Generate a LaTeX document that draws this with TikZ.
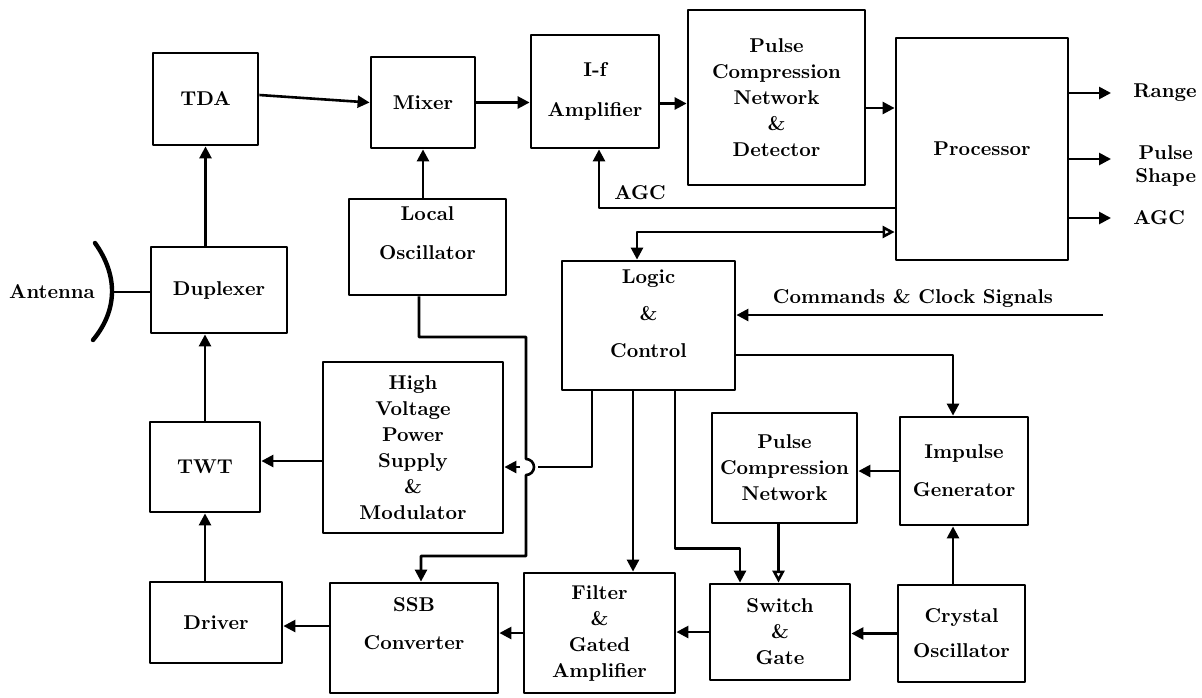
\documentclass[tikz,border=0pt]{standalone}
\usepackage{tikz}
\usetikzlibrary{arrows.meta}
\newcommand{\blockfont}{\bfseries\fontsize{10}{13}\selectfont}
\tikzstyle{block}=[draw, line width=1.4pt, align=center, inner sep=2pt, font=\blockfont]
\tikzstyle{txt}=[align=center, inner sep=0, font=\blockfont]
\tikzstyle{sig}=[line width=1.3pt, -{Triangle[length=6pt, width=6pt]}]
\tikzstyle{osig}=[line width=1.3pt, -{Triangle[open, length=6pt, width=6pt]}]
\tikzstyle{radar}=[x=0.5pt, y=-0.5pt, line join=round,
                   % Pixel grid of the original drawing, origin top left.
                   execute at begin picture={\useasboundingbox (0,0) rectangle (1202,697);}]
\begin{document}
\begin{tikzpicture}[radar]
    % receiver chain
    \node[block, minimum width=52.5pt, minimum height=46pt] (tda) at (205.5,99) {TDA};
    \node[block, minimum width=68pt, minimum height=43pt] (dup) at (219,290) {Duplexer};
    \node[block, minimum width=52pt, minimum height=45.5pt] (mix) at (423,102.5) {Mixer};
    \node[block, minimum width=78.5pt, minimum height=48pt] (lo) at (427.5,247) {};
    \node[txt] (lotext) at (427.5,233.5) {Local\\[6.5pt]Oscillator};
    \node[block, minimum width=64pt, minimum height=56.5pt] (ifa) at (595,91.5) {I-f\\[7pt]Amplifier};
    \node[block, minimum width=88.5pt, minimum height=87.5pt] (pcnd) at (776.5,97.5) {Pulse\\Compression\\Network\\\&\\Detector};
    \node[block, minimum width=86pt, minimum height=111pt] (proc) at (982,149) {Processor};
    \node[txt, anchor=west] (rng) at (1133,93) {Range};
    \node[txt, anchor=west, font=\bfseries\fontsize{10}{11.5}\selectfont] (shp) at (1135,166) {Pulse\\Shape};
    \node[txt, anchor=west] (agco) at (1133,218) {AGC};
    \node[txt] (agcl) at (640,193) {AGC};
    % transmitter chain
    \node[block, minimum width=86.5pt, minimum height=64.5pt] (logic) at (648.5,325.5) {};
    \node[txt] (logictext) at (648.5,314) {Logic\\[5.5pt]\&\\[5.5pt]Control};
    \node[txt] (cmdl) at (913,298) {Commands \& Clock Signals};
    \coordinate (cmd) at (1103,315);
    \node[block, minimum width=55pt, minimum height=45pt] (twt) at (205,467) {TWT};
    \node[block, minimum width=90pt, minimum height=85.5pt] (hv) at (413,447.5) {High\\Voltage\\Power\\Supply\\\&\\Modulator};
    \node[block, minimum width=72.5pt, minimum height=55pt] (pcn) at (784.5,468) {Pulse\\Compression\\Network};
    \node[block, minimum width=64pt, minimum height=54pt] (ig) at (964,471) {Impulse\\[6pt]Generator};
    \node[block, minimum width=66pt, minimum height=40.5pt] (drv) at (216,622.5) {Driver};
    \node[block, minimum width=84pt, minimum height=55pt] (ssb) at (414,638) {};
    \node[txt] (ssbtext) at (414,624) {SSB\\[6pt]Converter};
    \node[block, minimum width=75.5pt, minimum height=60pt] (fga) at (599.5,633) {Filter\\\&\\Gated\\Amplifier};
    \node[block, minimum width=70pt, minimum height=48pt] (sg) at (780,632) {Switch\\\&\\Gate};
    \node[block, minimum width=63.5pt, minimum height=48.5pt] (co) at (961.5,633.5) {Crystal\\[4.5pt]Oscillator};
    % antenna
    \node[txt] (antl) at (52,292) {Antenna};
    \coordinate (ant) at (111,292);
    \draw[line width=2.2pt, line cap=round] (95,243) .. controls (118,275) and (118,310) .. (93,340);
    \draw[line width=1.3pt] (ant) -- (ant -| dup.west);

    \draw[sig] (tda.south |- dup.north) -- (tda.south);
    \draw[sig] ([yshift=2pt]tda.east) -- (mix.west);
    \draw[sig] (mix.south |- lo.north) -- (mix.south);
    \draw[sig] (mix.east) -- (mix.east -| ifa.west);
    \draw[sig] ([yshift=-6pt]ifa.east) -- ([yshift=-6pt]ifa.east -| pcnd.west);
    \draw[sig] ([yshift=-5.25pt]pcnd.east) -- ([yshift=-5.25pt]pcnd.east -| proc.west);
    \draw[sig] (proc.west |- 0,208) -| ([xshift=2pt]ifa.south);
    \draw[sig] (proc.east |- rng.west) -- ([xshift=-11pt]rng.west);
    \draw[sig] (proc.east |- 0,159) -- ([xshift=-12pt]shp.west |- 0,159);
    \draw[sig] (proc.east |- agco.west) -- ([xshift=-11pt]agco.west);
    \draw[line width=1.3pt, {Triangle[open, length=6pt, width=6pt]}-{Triangle[length=6pt, width=6pt]}]
        (proc.west |- 0,232) -| ([xshift=-5.75pt]logic.north);

    \draw[sig] (cmd) -- (cmd -| logic.east);
    \draw[sig] (logic.east |- 0,355) -| ([xshift=-5.5pt]ig.north);
    \draw[sig] ([xshift=-4.25pt]co.north) -- ([xshift=-4.25pt]co.north |- ig.south);
    \draw[sig] (ig.west) -- (ig.west -| pcn.east);
    \draw[osig] ([xshift=-3pt]pcn.south) -- ([xshift=-3pt]pcn.south |- sg.north);
    \draw[sig] (co.west) -- (co.west -| sg.east);
    \draw[sig] ([xshift=13.25pt]logic.south) -- ++(0,-78.5pt) -| ([xshift=-20pt]sg.north);
    \draw[sig] ([xshift=-7.75pt]logic.south) -- ([xshift=-7.75pt]logic.south |- fga.north);
    \coordinate (jr) at (538,467);
    \coordinate (jl) at (520,467);
    \draw[line width=1.3pt] ([xshift=-28.25pt]logic.south) |- (jr);
    \draw[sig] (jl) -- (jl -| hv.east);
    \draw[sig] ([xshift=-4.25pt]lo.south) |- (526,337) -- (526,459)
        arc[start angle=90, end angle=-90, radius=4pt] -- (526,556) -| ([xshift=3.5pt]ssb.north);

    \draw[sig] ([yshift=-6.75pt]hv.west) -- ([yshift=-6.75pt]hv.west -| twt.east);
    \draw[sig] (twt.north) -- (twt.north |- dup.south);
    \draw[sig] (twt.south |- drv.north) -- (twt.south);
    \draw[sig] ([yshift=6pt]ssb.west) -- ([yshift=6pt]ssb.west -| drv.east);
    \draw[sig] (fga.west) -- (fga.west -| ssb.east);
    \draw[sig] (sg.west) -- (sg.west -| fga.east);
\end{tikzpicture}
\end{document}
